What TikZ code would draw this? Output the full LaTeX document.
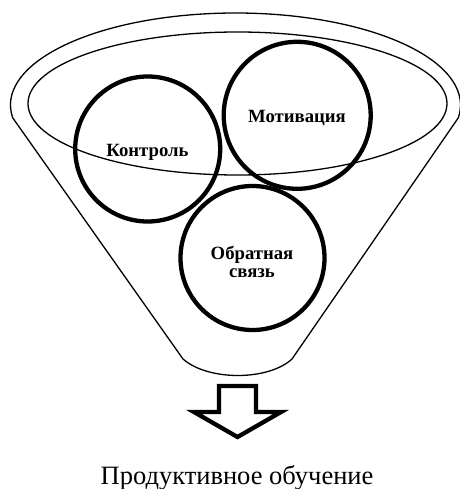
\documentclass[tikz,border=0pt]{standalone}
\usepackage{fontspec}
\setmainfont{Liberation Serif}
\begin{document}
\begin{tikzpicture}[x=1pt,y=-1pt,
  thin line/.style={line width=1.3pt},
  ringline/.style={line width=4.3pt},
  lbl/.style={font=\fontsize{18.7}{18}\selectfont\bfseries,align=center},
  blockarrow/.style={line width=4.3pt,line join=miter}]
\useasboundingbox (0,0) rectangle (459,489);
% funnel
\coordinate (lc) at ({235.5+225*cos(172)},{105+92*sin(172)});
\coordinate (rb) at (292,359);
\coordinate (lb) at (183,359);
\draw[thin line] (lc) arc[start angle=172,end angle=368,x radius=225,y radius=92]
  -- (rb) .. controls (268,381) and (208,381) .. (lb) -- cycle;
\draw[thin line] (237.5,103.5) ellipse[x radius=209.5,y radius=71.5];
% circles
\draw[ringline] (147.7,149) circle[radius=72.5];
\draw[ringline] (297.2,115.3) circle[radius=73.5];
\draw[ringline] (252.5,258) circle[radius=72];
\node[lbl,anchor=base] (k) at (147.5,156.5) {Контроль};
\node[lbl,anchor=base] (m) at (297,122.3) {Мотивация};
\node[lbl,anchor=north] (o) at (252,243) {Обратная\\связь};
% arrow
\draw[blockarrow] (219,386) -- (256,386) -- (256,412) -- (281,412) -- (237.5,437)
  -- (194,412) -- (219,412) -- cycle;
\node[anchor=base,font=\fontsize{26.5}{28}\selectfont] (p) at (237,484) {Продуктивное обучение};
\end{tikzpicture}
\end{document}
